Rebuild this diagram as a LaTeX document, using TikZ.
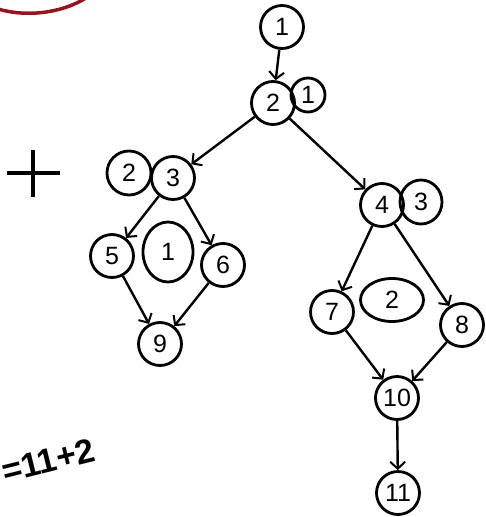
\documentclass[tikz,border=0pt]{standalone}
\usepackage{fontspec}
\setmainfont{Liberation Sans}
\usetikzlibrary{arrows.meta,shapes.geometric}
\begin{document}
\begin{tikzpicture}[x=1pt,y=-1pt,
  vtx/.style={circle,draw,line width=2.8pt,minimum size=43pt,inner sep=0pt,font=\fontsize{25}{25}\selectfont},
  reg/.style={ellipse,draw,line width=2.8pt,inner sep=0pt,font=\fontsize{25}{25}\selectfont},
  edge/.style={line width=2.4pt,-{Straight Barb[length=7pt,width=15pt,line width=2pt]}},
  ]
\useasboundingbox (0,0) rectangle (485,517);
% red arc at top-left
\draw[color={rgb,255:red,150;green,20;blue,30},line width=3.5pt] (-2,9) .. controls (25,17) and (60,14) .. (86,-2);
% plus sign
\node (plus) at (33,173) {};
\draw[line width=3.2pt] (7,173) -- (60,173) (33,150) -- (33,197);
% vertices
\node[vtx] (n1) at (282,27) {1};
\node[vtx] (n2) at (273,103) {2};
\node[vtx] (n3) at (173,178) {3};
\node[vtx] (n4) at (382,205) {4};
\node[vtx] (n5) at (112,256) {5};
\node[vtx] (n6) at (223,265) {6};
\node[vtx] (n7) at (332,312) {7};
\node[vtx] (n8) at (462,325) {8};
\node[vtx] (n9) at (160,344) {9};
\node[vtx] (n10) at (397,398) {10};
\node[vtx] (n11) at (398,493) {11};
% region labels
\node[reg,minimum width=34pt,minimum height=34pt] (r1a) at (308,95) {1};
\node[reg,minimum width=44pt,minimum height=44pt] (r2a) at (129,173) {2};
\node[reg,minimum width=42pt,minimum height=44pt] (r3a) at (421,202) {3};
\node[reg,minimum width=50pt,minimum height=60pt] (r1b) at (168,252) {1};
\node[reg,minimum width=63pt,minimum height=43pt] (r2b) at (392,300) {2};
% edges
\draw[edge] (n1) -- (n2);
\draw[edge] (n2) -- (n3);
\draw[edge] (n2) -- (n4);
\draw[edge] (n3) -- (n5);
\draw[edge] (n3) -- (n6);
\draw[edge] (n5) -- (n9);
\draw[edge] (n6) -- (n9);
\draw[edge] (n4) -- (n7);
\draw[edge] (n4) -- (n8);
\draw[edge] (n7) -- (n10);
\draw[edge] (n8) -- (n10);
\draw[edge] (n10) -- (n11);
% formula fragment
\node[rotate=14,anchor=west,font=\fontsize{34}{34}\selectfont\bfseries,inner sep=0pt] (formula) at (2,472) {=11+2};
\end{tikzpicture}
\end{document}
